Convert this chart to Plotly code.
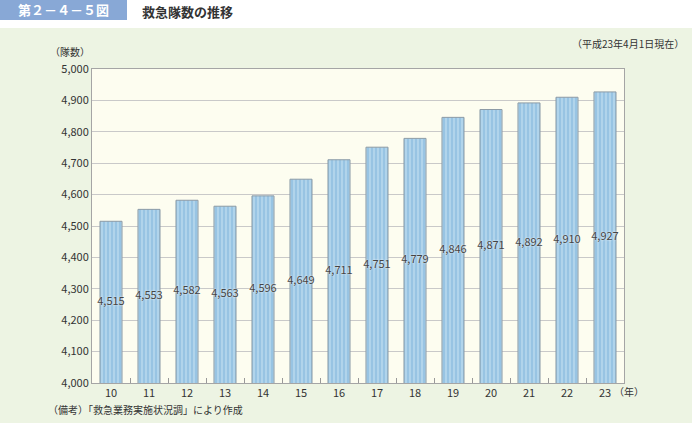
import plotly.graph_objects as go

years = ["10", "11", "12", "13", "14", "15", "16", "17", "18", "19", "20", "21", "22", "23"]
teams = [4515, 4553, 4582, 4563, 4596, 4649, 4711, 4751, 4779, 4846, 4871, 4892, 4910, 4927]
y_ticks = list(range(4000, 5001, 100))
y_tick_text = [f"{v:,}" for v in y_ticks]

FONT = "Noto Sans CJK JP"
Y_MIN = 4000

fig = go.Figure()
fig.add_trace(go.Bar(
    x=years,
    y=teams,
    width=0.58,
    marker=dict(
        color="#9fcae7",
        line=dict(color="#8d9ba6", width=1),
        pattern=dict(shape="|", fgcolor="#d6ebf8", bgcolor="#98c4e3", size=4, solidity=0.4),
    ),
    hoverinfo="skip",
))
# value labels at the middle of the visible part of each bar
fig.add_trace(go.Scatter(
    x=years,
    y=[(v + Y_MIN) / 2 for v in teams],
    mode="text",
    text=[f"{v:,}" for v in teams],
    textposition="middle center",
    textfont=dict(family=FONT, size=11, color="#444444", shadow="0px 0px 2px #ffffff"),
    hoverinfo="skip",
))

fig.update_layout(
    width=692, height=423,
    margin=dict(l=92, r=68, t=69, b=40, autoexpand=False),
    paper_bgcolor="#edf4e3",
    plot_bgcolor="#fdfdf0",
    font=dict(family=FONT, size=11, color="#333333"),
    showlegend=False,
    xaxis=dict(
        type="category",
        range=[-0.5, len(years) - 0.5],
        showgrid=False,
        ticks="inside",
        tickson="boundaries",
        ticklen=5,
        tickcolor="#999999",
        showline=True, linecolor="#a5a5a5", linewidth=1, mirror=True,
        tickfont=dict(family=FONT, size=11, color="#333333"),
    ),
    yaxis=dict(
        range=[Y_MIN, 5000],
        tickvals=y_ticks,
        ticktext=y_tick_text,
        showgrid=True, gridcolor="#c9c9c9", gridwidth=1,
        showline=True, linecolor="#a5a5a5", linewidth=1, mirror=True,
        ticks="", zeroline=False,
        tickfont=dict(family=FONT, size=11, color="#333333"),
    ),
    shapes=[
        dict(type="rect", xref="paper", yref="paper", x0=-92/532, x1=(532+68)/532,
             y0=1 + (69-28)/314, y1=1 + 69/314, fillcolor="#ffffff", line=dict(width=0), layer="below"),
        dict(type="rect", xref="paper", yref="paper", x0=-92/532, x1=(127-92)/532,
             y0=1 + (69-20)/314, y1=1 + 69/314, fillcolor="#88a8d6", line=dict(width=0), layer="below"),
    ],
    annotations=[
        dict(text="<b>第２－４－５図</b>", xref="paper", yref="paper", x=(63-92)/532, y=1 + (69-10)/314,
             xanchor="center", yanchor="middle", showarrow=False,
             font=dict(family=FONT, size=13, color="#ffffff")),
        dict(text="<b>救急隊数の推移</b>", xref="paper", yref="paper", x=(140-92)/532, y=1 + (69-11)/314,
             xanchor="left", yanchor="middle", showarrow=False,
             font=dict(family=FONT, size=13, color="#333333")),
        dict(text="（平成23年4月1日現在）", xref="paper", yref="paper", x=(686-92)/532, y=1 + (69-44)/314,
             xanchor="right", yanchor="middle", showarrow=False,
             font=dict(family=FONT, size=10, color="#333333")),
        dict(text="（隊数）", xref="paper", yref="paper", x=(92-92)/532, y=1 + (69-52)/314,
             xanchor="right", yanchor="middle", showarrow=False,
             font=dict(family=FONT, size=10, color="#333333")),
        dict(text="（年）", xref="paper", yref="paper", x=(612-92)/532, y=-(391-383)/314,
             xanchor="left", yanchor="middle", showarrow=False,
             font=dict(family=FONT, size=10, color="#333333")),
        dict(text="（備考）「救急業務実施状況調」により作成", xref="paper", yref="paper",
             x=(46-92)/532, y=-(409-383)/314,
             xanchor="left", yanchor="middle", showarrow=False,
             font=dict(family=FONT, size=10, color="#333333")),
    ],
)

fig.write_html("out.html")
